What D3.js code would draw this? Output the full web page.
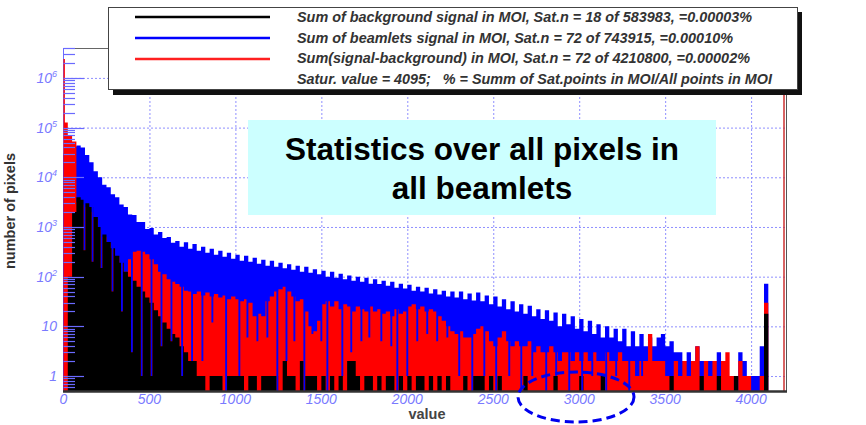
<!DOCTYPE html>
<html>
<head>
<meta charset="utf-8">
<script src="https://cdn.jsdelivr.net/npm/d3@7"></script>
<style>
body { margin: 0; background: #fff; }
svg { display: block; }
</style>
</head>
<body>
<svg id="chart" width="866" height="425"></svg>
<script>
// histogram bins, 25 counts wide, starting at 0
const BIN = 25
const blueCounts = [30000, 35500, 41700, 43600, 39800, 28200, 20000, 13200, 10000, 7080,
  6310, 4570, 3980, 2820, 2510, 1780, 1740, 1260, 1260, 912,
  955, 708, 794, 603, 631, 479, 525, 398, 490, 363,
  457, 331, 398, 302, 363, 275, 331, 251, 302, 229,
  275, 209, 263, 200, 240, 182, 219, 166, 209, 158,
  191, 148, 178, 138, 166, 126, 158, 120, 141, 112,
  132, 100, 126, 95, 115, 89, 105, 83, 100, 79,
  95, 72, 89, 71, 83, 66, 79, 60, 72, 58,
  69, 52, 63, 50, 60, 46, 56, 44, 52, 40,
  50, 38, 50, 35, 46, 33, 48, 32, 42, 28,
  40, 25, 35, 22, 32, 20, 28, 18, 26, 16,
  22, 14, 21, 13, 19, 10, 18, 11, 16, 9,
  14, 8, 13, 7, 11, 6, 10, 6, 9, 5,
  9, 4, 8, 4, 7, 4, 6, 4, 6, 7,
  4, 5, 3, 3, 2, 3, 2, 4, 2, 2,
  2, 2, 3, 2, 1, 1, 1, 3, 2, 1,
  1, 1, 4, 72]
const redCounts = [126000, 70800, 52500, 3160, 2820, 2510, 2000, 1410, 891, 631,
  479, 355, 251, 186, 126, 224, 316, 331, 316, 282,
  224, 178, 126, 112, 89, 79, 71, 63, 52, 50,
  45, 50, 42, 48, 40, 45, 38, 42, 35, 40,
  35, 32, 35, 30, 16, 18, 16, 32, 40, 50,
  56, 63, 50, 40, 32, 35, 20, 10, 8, 13,
  28, 32, 25, 32, 22, 28, 25, 20, 25, 22,
  20, 25, 20, 22, 18, 20, 16, 22, 18, 20,
  25, 28, 22, 25, 20, 22, 20, 16, 13, 10,
  8, 7, 8, 6, 6, 7, 9, 10, 8, 5,
  4, 6, 8, 5, 4, 5, 4, 4, 5, 3,
  4, 3, 3, 4, 3, 2, 3, 3, 2, 3,
  2, 3, 2, 3, 2, 2, 3, 2, 2, 3,
  2, 2, 2, 1, 2, 2, 7, 2, 2, 2,
  1, 1, 2, 1, 2, 1, 2, 4, 1, 2,
  1, 2, 1, 2, 3, 1, 0, 2, 1, 1,
  0, 0, 1, 30]
const blackCounts = [0, 100, 2000, 3980, 3550, 3020, 2510, 1580, 1000, 708,
  501, 372, 263, 191, 126, 100, 83, 63, 50, 38,
  30, 21, 16, 12, 9, 7, 6, 4, 3, 2,
  2, 1, 1, 0, 1, 1, 1, 0, 1, 1,
  1, 1, 0, 1, 1, 0, 1, 1, 1, 1,
  0, 2, 1, 1, 0, 2, 1, 1, 1, 0,
  1, 0, 1, 0, 1, 0, 2, 2, 1, 0,
  1, 1, 0, 1, 0, 1, 1, 0, 1, 0,
  1, 0, 1, 1, 0, 1, 0, 1, 0, 1,
  0, 0, 0, 1, 0, 1, 1, 1, 0, 1,
  0, 1, 0, 0, 0, 0, 0, 1, 0, 0,
  0, 0, 0, 0, 1, 0, 0, 0, 0, 0,
  1, 0, 0, 0, 0, 1, 0, 0, 0, 0,
  0, 0, 0, 0, 0, 0, 0, 0, 0, 0,
  0, 1, 0, 0, 0, 0, 0, 0, 1, 0,
  0, 0, 1, 0, 0, 0, 1, 0, 0, 0,
  0, 0, 0, 18]
// narrow values where red and black drop and blue shows through
const dipValues = [122, 169, 221, 285, 340, 398, 455, 512, 570, 628, 690, 748, 808, 866, 946, 1023, 1070,
  1128, 1186, 1244, 1297, 1343, 1401, 1448, 1500, 1535, 1622, 1674, 1733, 1779, 1849, 1907, 1942,
  2000, 2058, 2116, 2174, 2233, 2302, 2378, 2448, 2517, 2593, 2663, 2727, 2808, 2866, 2942,
  3017, 3076, 3157, 3215, 3291, 3366]
const dipCounts = [340, 200, 150, 50, 20, 3, 1, 1, 4, 5, 1, 2, 2, 12, 0, 1, 6,
  5, 6, 0, 2, 5, 0, 7, 5, 0, 1, 3, 5, 6, 5, 4, 0,
  1, 5, 7, 5, 6, 1, 0, 1, 0, 1, 0, 1, 0, 1, 0,
  0, 1, 0, 1, 0, 1]
const redZeroCount = 2400000

const xTicks = [0, 500, 1000, 1500, 2000, 2500, 3000, 3500, 4000]
const yDecades = [1, 10, 100, 1000, 10000, 100000, 1000000]
const yExps = [null, null, 2, 3, 4, 5, 6]
const legendColors = ["#000000", "#0000ff", "#ff2020", null]
const legendTexts = [
  "Sum of background signal in MOI, Sat.n = 18 of 583983, =0.00003%",
  "Sum of beamlets signal in MOI, Sat.n = 72 of 743915, =0.00010%",
  "Sum(signal-background) in MOI, Sat.n = 72 of 4210800, =0.00002%",
  "Satur. value = 4095;   % = Summ of Sat.points in MOI/All points in MOI"
]
const legendWidths = [455, 436, 453, 475]
const titleLines = ["Statistics over all pixels in", "all beamlets"]

const svg = d3.select("#chart")
const x = d3.scaleLinear().domain([0, 4200]).range([63.5, 785.5])
const y = d3.scaleLog().domain([0.5, 4e6]).range([391, 48])
const base = y(0.5)

svg.append("rect").attr("width", 866).attr("height", 425).attr("fill", "#fff")

// dotted grid
let gx = svg.append("g").attr("transform", `translate(0,${base})`)
  .call(d3.axisBottom(x).tickValues(xTicks.slice(1)).tickSize(-(base - 48)).tickFormat(""))
gx.select(".domain").remove()
let gy = svg.append("g").attr("transform", "translate(63,0)")
  .call(d3.axisLeft(y).tickValues(yDecades).tickSize(-(785 - 63)).tickFormat(""))
gy.select(".domain").remove()
svg.selectAll(".tick line").attr("stroke", "#8f8fff").attr("stroke-dasharray", "2,2")

// frame
svg.append("line").attr("x1", 63).attr("x2", 786).attr("y1", 48.5).attr("y2", 48.5).attr("stroke", "#666")
svg.append("line").attr("x1", 63.5).attr("x2", 63.5).attr("y1", 48).attr("y2", base).attr("stroke", "#6a6aff")

function segments(counts, dips) {
  let segs = counts.map((n, i) => ({x0: i * BIN, x1: (i + 1) * BIN, n: n}))
  if (!dips) return segs
  dipValues.forEach((d, k) => {
    let a = d - 5.5, b = d + 5.5, out = []
    segs.forEach(s => {
      if (s.x1 <= a || s.x0 >= b) { out.push(s); return }
      if (s.x0 < a) out.push({x0: s.x0, x1: a, n: s.n})
      out.push({x0: Math.max(s.x0, a), x1: Math.min(s.x1, b), n: Math.min(s.n, dipCounts[k])})
      if (s.x1 > b) out.push({x0: b, x1: s.x1, n: s.n})
    })
    segs = out
  })
  return segs
}

const area = d3.area()
  .curve(d3.curveStepAfter)
  .x(d => x(d.x))
  .y0(base)
  .y1(d => d.n > 0.5 ? y(d.n) : base)

function drawSeries(segs, color) {
  let pts = segs.map(s => ({x: s.x0, n: s.n}))
  let last = segs[segs.length - 1]
  pts.push({x: last.x1, n: last.n})
  svg.append("path").attr("d", area(pts)).attr("fill", color)
}

let redSegs = segments(redCounts, true)
redSegs[0].x0 = 8
redSegs.unshift({x0: 0, x1: 8, n: redZeroCount})

drawSeries(segments(blueCounts, false), "#0000ff")
drawSeries(redSegs, "#ff0000")
drawSeries(segments(blackCounts, true), "#000000")

// y ticks drawn inward over the data
svg.append("g").selectAll("line")
  .data(y.ticks())
  .join("line")
  .attr("x1", 63.5)
  .attr("x2", d => yDecades.includes(d) ? 84 : 75)
  .attr("y1", d => Math.round(y(d)) + 0.5)
  .attr("y2", d => Math.round(y(d)) + 0.5)
  .attr("stroke", "#6a6aff")
  .attr("stroke-width", 1.2)

// right and bottom edges
svg.append("line").attr("x1", 784).attr("x2", 784).attr("y1", 48).attr("y2", base).attr("stroke", "#cc3030").attr("stroke-width", 1.5)
svg.append("line").attr("x1", 786.5).attr("x2", 786.5).attr("y1", 48).attr("y2", base + 1).attr("stroke", "#555")
svg.append("line").attr("x1", 63).attr("x2", 787).attr("y1", base + 0.5).attr("y2", base + 0.5).attr("stroke", "#333").attr("stroke-width", 2.5)

// tick labels
svg.append("g").selectAll("text")
  .data(xTicks)
  .join("text")
  .attr("x", d => x(d))
  .attr("y", 404)
  .attr("text-anchor", "middle")
  .attr("font-family", "Liberation Sans, Arial, sans-serif")
  .attr("font-style", "italic")
  .attr("font-size", 14)
  .attr("fill", "#7a7aff")
  .text(d => d)

let yl = svg.append("g").selectAll("text")
  .data(yDecades)
  .join("text")
  .attr("x", 57)
  .attr("y", d => y(d) + 5)
  .attr("text-anchor", "end")
  .attr("font-family", "Liberation Sans, Arial, sans-serif")
  .attr("font-style", "italic")
  .attr("font-size", 14)
  .attr("fill", "#7a7aff")
yl.each(function(d, i) {
  let t = d3.select(this)
  if (yExps[i] == null) { t.text(d); return }
  t.append("tspan").text("10")
  t.append("tspan").attr("dy", -6).attr("font-size", 9).text(yExps[i])
})

// axis titles
svg.append("text")
  .attr("x", 427).attr("y", 419)
  .attr("text-anchor", "middle")
  .attr("font-family", "Liberation Sans, Arial, sans-serif")
  .attr("font-weight", "bold")
  .attr("font-size", 14.5)
  .attr("fill", "#444")
  .text("value")
svg.append("text")
  .attr("transform", "translate(15,211) rotate(-90)")
  .attr("text-anchor", "middle")
  .attr("font-family", "Liberation Sans, Arial, sans-serif")
  .attr("font-weight", "bold")
  .attr("font-size", 14.5)
  .attr("fill", "#333")
  .text("number of pixels")

// caption box
svg.append("rect").attr("x", 248).attr("y", 120).attr("width", 468).attr("height", 95).attr("fill", "#ccffff")
svg.append("g").selectAll("text")
  .data(titleLines)
  .join("text")
  .attr("x", 482)
  .attr("y", (d, i) => 160 + i * 39)
  .attr("text-anchor", "middle")
  .attr("font-family", "Liberation Sans, Arial, sans-serif")
  .attr("font-weight", "bold")
  .attr("font-size", 31.5)
  .attr("fill", "#000")
  .text(d => d)

// legend
let lg = svg.append("g")
lg.append("rect").attr("x", 113).attr("y", 12).attr("width", 689).attr("height", 83).attr("fill", "#111")
lg.append("rect").attr("x", 108.5).attr("y", 7.5).attr("width", 689).attr("height", 82).attr("fill", "#fff").attr("stroke", "#444")
lg.selectAll("line")
  .data(legendColors.filter(c => c))
  .join("line")
  .attr("x1", 135).attr("x2", 270)
  .attr("y1", (d, i) => 17 + i * 21)
  .attr("y2", (d, i) => 17 + i * 21)
  .attr("stroke", d => d)
  .attr("stroke-width", 2.5)
lg.selectAll("text")
  .data(legendTexts)
  .join("text")
  .attr("x", 297)
  .attr("y", (d, i) => [22, 43, 63, 84][i])
  .attr("font-family", "Liberation Sans, Arial, sans-serif")
  .attr("font-weight", "bold")
  .attr("font-style", "italic")
  .attr("font-size", 14)
  .attr("fill", "#333")
  .attr("textLength", (d, i) => legendWidths[i])
  .attr("lengthAdjust", "spacingAndGlyphs")
  .attr("xml:space", "preserve")
  .text(d => d)

// highlight ellipse
svg.append("ellipse")
  .attr("cx", 576).attr("cy", 397).attr("rx", 58).attr("ry", 25)
  .attr("fill", "none")
  .attr("stroke", "#0000ee")
  .attr("stroke-width", 3)
  .attr("stroke-dasharray", "9,5")
</script>
</body>
</html>
